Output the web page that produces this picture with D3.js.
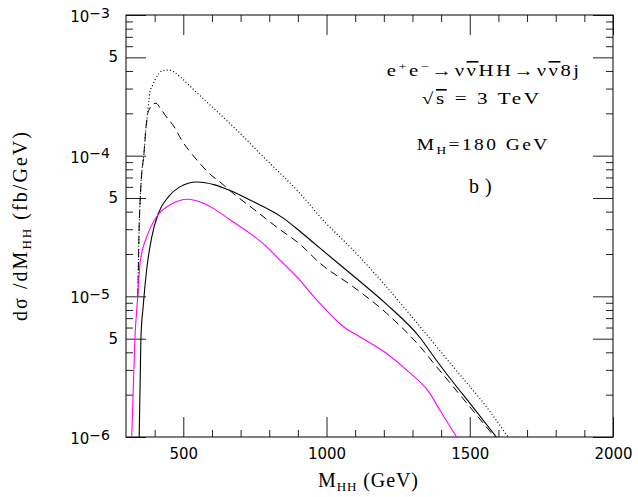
<!DOCTYPE html>
<html><head><meta charset="utf-8">
<script src="https://cdn.jsdelivr.net/npm/d3@7"></script>
<style>body{margin:0;background:#fff}svg{display:block}</style>
</head><body><svg id="c" width="638" height="497"></svg>
<script>
// ---- data ----
const massSolid = [346, 352, 360, 372, 390, 413, 448, 488, 547, 610, 663, 733, 849, 907, 977, 1093, 1209, 1326, 1384, 1442, 1500, 1593];
const solidVals = [1e-6, 5e-6, 8.5e-6, 1.54e-5, 2.65e-5, 3.89e-5, 5.1e-5, 6.0e-5, 6.5e-5, 6.2e-5, 5.65e-5, 4.84e-5, 3.6e-5, 2.9e-5, 2.2e-5, 1.4e-5, 8.8e-6, 5.1e-6, 3.5e-6, 2.45e-6, 1.74e-6, 1e-6];

const massDashed = [341, 343, 345, 349, 355, 362, 370, 376, 382, 392, 405, 420, 436, 471, 494, 523, 558, 593, 628, 674, 750, 831, 907, 977, 1093, 1209, 1326, 1384, 1442, 1500, 1587];
const dashedVals = [1e-5, 1.5e-5, 2.6e-5, 4.6e-5, 7.5e-5, 1.0e-4, 1.6e-4, 2.0e-4, 2.15e-4, 2.3e-4, 2.36e-4, 2.17e-4, 1.95e-4, 1.57e-4, 1.29e-4, 1.07e-4, 8.8e-5, 7.4e-5, 6.5e-5, 5.4e-5, 4.1e-5, 3.05e-5, 2.35e-5, 1.72e-5, 1.17e-5, 7.6e-6, 4.4e-6, 3.16e-6, 2.28e-6, 1.64e-6, 1e-6];

const massDotted = [341, 343, 345, 349, 355, 362, 370, 376, 380, 384, 392, 401, 428, 450, 486, 517, 552, 585, 616, 649, 674, 791, 907, 987, 1093, 1209, 1326, 1442, 1558, 1634];
const dottedVals = [1e-5, 1.5e-5, 2.6e-5, 4.6e-5, 7.5e-5, 1.0e-4, 1.6e-4, 2.05e-4, 2.45e-4, 2.85e-4, 3.14e-4, 3.45e-4, 4.02e-4, 4.06e-4, 3.68e-4, 3.21e-4, 2.75e-4, 2.38e-4, 2.08e-4, 1.80e-4, 1.61e-4, 9.3e-5, 5.4e-5, 3.5e-5, 2.13e-5, 1.17e-5, 6.1e-6, 3.16e-6, 1.64e-6, 1e-6];

const massMagenta = [320, 331, 340, 349, 372, 407, 453, 517, 558, 610, 663, 733, 791, 837, 884, 977, 1058, 1116, 1209, 1279, 1360, 1395, 1454];
const magentaVals = [1e-6, 5e-6, 9.4e-6, 1.72e-5, 2.65e-5, 3.68e-5, 4.46e-5, 4.9e-5, 4.7e-5, 4.15e-5, 3.5e-5, 2.8e-5, 2.25e-5, 1.81e-5, 1.46e-5, 8.9e-6, 6.1e-6, 5.16e-6, 3.94e-6, 3.0e-6, 2.05e-6, 1.56e-6, 1e-6];

const xTickValues = [500, 1000, 1500, 2000];
const xTickLabels = ["500", "1000", "1500", "2000"];
const xMinorTicks = [400, 600, 700, 800, 900, 1100, 1200, 1300, 1400, 1600, 1700, 1800, 1900];
const yMajorTicks = [1e-6, 5e-6, 1e-5, 5e-5, 1e-4, 5e-4, 1e-3];
const yTickLabels = [["10","−6"], ["5"], ["10","−5"], ["5"], ["10","−4"], ["5"], ["10","−3"]];
const yDecades = [1e-6, 1e-5, 1e-4];
const yMinorMult = [2, 3, 4, 6, 7, 8, 9];

// ---- layout ----
const L = 126, R = 613, T = 15, B = 437;
const svg = d3.select("#c");
const x = d3.scaleLinear().domain([300, 2000]).range([L, R]);
const y = d3.scaleLog().domain([1e-6, 1e-3]).range([B, T]);
const serif = "'Liberation Serif', 'Times New Roman', serif";
const sans = "'DejaVu Sans', sans-serif";

svg.append("defs").append("clipPath").attr("id", "clip")
  .append("rect").attr("x", L).attr("y", T).attr("width", R - L).attr("height", B - T);

// ticks via d3 axes
const yMinorTicks = yDecades.flatMap(d => yMinorMult.map(m => m * d));
function ax(axis, tx, ty) {
  const g = svg.append("g").attr("transform", `translate(${tx},${ty})`).call(axis);
  g.select(".domain").remove();
  g.selectAll(".tick line").attr("stroke", "#222").attr("stroke-width", 1);
  return g;
}
const noLab = () => "";
const bx = ax(d3.axisBottom(x).tickValues(xTickValues).tickSize(-20).tickPadding(11).tickFormat((d, i) => xTickLabels[i]), 0, B);
bx.selectAll("text").attr("font-family", sans).attr("font-size", 15).attr("fill", "#000");
ax(d3.axisBottom(x).tickValues(xMinorTicks).tickSize(-7).tickFormat(noLab), 0, B);
ax(d3.axisTop(x).tickValues(xTickValues).tickSize(-20).tickFormat(noLab), 0, T);
ax(d3.axisTop(x).tickValues(xMinorTicks).tickSize(-7).tickFormat(noLab), 0, T);
ax(d3.axisLeft(y).tickValues(yMajorTicks).tickSize(-20).tickFormat(noLab), L, 0);
ax(d3.axisLeft(y).tickValues(yMinorTicks).tickSize(-7).tickFormat(noLab), L, 0);
ax(d3.axisRight(y).tickValues(yMajorTicks).tickSize(-20).tickFormat(noLab), R, 0);
ax(d3.axisRight(y).tickValues(yMinorTicks).tickSize(-7).tickFormat(noLab), R, 0);

// frame
svg.append("rect").attr("x", L).attr("y", T).attr("width", R - L).attr("height", B - T)
  .attr("fill", "none").attr("stroke", "#000").attr("stroke-width", 1);

// y tick labels
yMajorTicks.forEach((v, i) => {
  const lab = yTickLabels[i];
  const t = svg.append("text").attr("font-family", sans).attr("font-size", 15).attr("fill", "#000")
    .attr("text-anchor", "end");
  if (lab.length === 2) {
    t.attr("x", 110).attr("y", y(v) + 7);
    t.append("tspan").text(lab[0]);
    t.append("tspan").attr("dy", -4.5).attr("font-size", 14).text(lab[1]);
  } else {
    t.attr("x", 118).attr("y", y(v) + 5).text(lab[0]);
  }
});

// curves
const line = d3.line().x(d => x(d[0])).y(d => y(d[1])).curve(d3.curveMonotoneX);
const zip = (a, b) => a.map((m, i) => [m, b[i]]);
const curves = svg.append("g").attr("clip-path", "url(#clip)").attr("fill", "none");
curves.append("path").attr("d", line(zip(massDotted, dottedVals)))
  .attr("stroke", "#000").attr("stroke-width", 1.2).attr("stroke-dasharray", "1,2.3");
curves.append("path").attr("d", line(zip(massDashed, dashedVals)))
  .attr("stroke", "#000").attr("stroke-width", 1).attr("stroke-dasharray", "8,5");
curves.append("path").attr("d", line(zip(massSolid, solidVals)))
  .attr("stroke", "#000").attr("stroke-width", 1.1);
curves.append("path").attr("d", line(zip(massMagenta, magentaVals)))
  .attr("stroke", "#ff00ff").attr("stroke-width", 1.1);

// axis titles
const xt = svg.append("text").attr("x", 318).attr("y", 486.5).attr("font-family", serif)
  .attr("font-size", 20).attr("textLength", 100).attr("lengthAdjust", "spacing");
xt.append("tspan").text("M");
xt.append("tspan").attr("dy", 4).attr("font-size", 13).text("HH");
xt.append("tspan").attr("dy", -4).text(" (GeV)");

const yt = svg.append("text").attr("transform", "translate(27,321) rotate(-90)")
  .attr("font-family", serif).attr("font-size", 20)
  .attr("textLength", 189).attr("lengthAdjust", "spacing");
yt.append("tspan").text("dσ /dM");
yt.append("tspan").attr("dy", 4).attr("font-size", 13).text("HH");
yt.append("tspan").attr("dy", -4).text("  (fb/GeV)");

// annotations
const fs = 16;
const ov = "text-decoration:overline";
function ann(xp, yp, len, ls) {
  return svg.append("text").attr("x", xp).attr("y", yp).attr("font-family", serif).attr("font-size", fs)
    .attr("letter-spacing", ls).attr("textLength", len).attr("lengthAdjust", "spacingAndGlyphs");
}
const a1 = ann(386.7, 76, 195, 2);
a1.append("tspan").text("e");
a1.append("tspan").attr("dy", -6).attr("font-size", 11).text("+");
a1.append("tspan").attr("dy", 6).text("e");
a1.append("tspan").attr("dy", -6).attr("font-size", 11).text("−");
a1.append("tspan").attr("dy", 6).text("→ν");
a1.append("tspan").attr("style", ov).text("ν");
a1.append("tspan").text("HH→ν");
a1.append("tspan").attr("style", ov).text("ν");
a1.append("tspan").text("8j");

const a2 = ann(421.7, 104, 120, 2);
a2.append("tspan").text("√");
a2.append("tspan").attr("style", ov).text("s");
a2.append("tspan").text("  =  3  TeV");

const a3 = ann(416.7, 150, 133, 2);
a3.append("tspan").text("M");
a3.append("tspan").attr("dy", 3.5).attr("font-size", 11).text("H");
a3.append("tspan").attr("dy", -3.5).text("=180  GeV");

svg.append("text").attr("x", 469).attr("y", 193).attr("font-family", serif).attr("font-size", 20)
  .attr("letter-spacing", 6).text("b)");
</script>
</body></html>
